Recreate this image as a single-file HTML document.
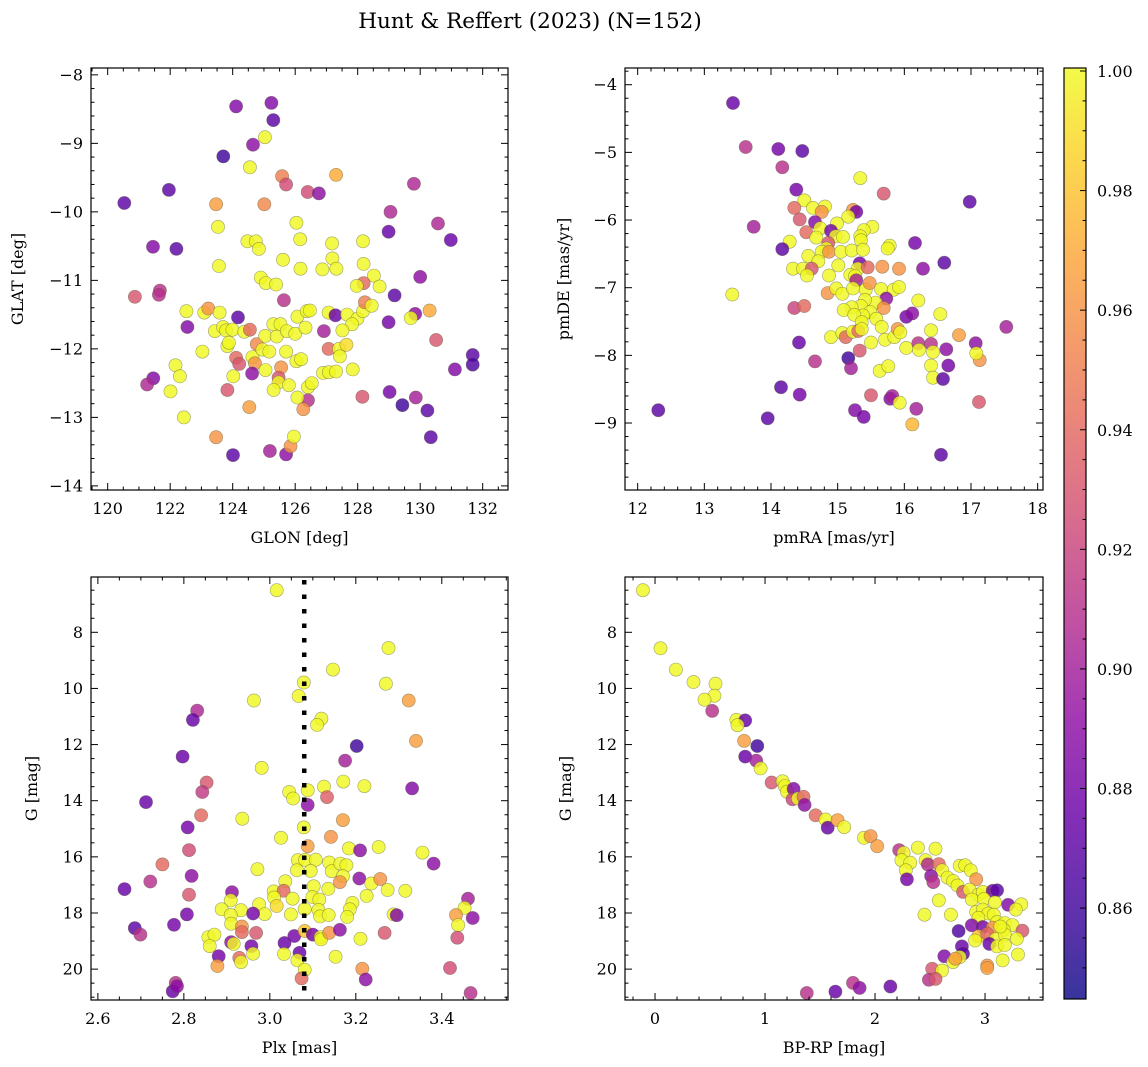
<!DOCTYPE html>
<html><head><meta charset="utf-8"><title>Hunt &amp; Reffert (2023)</title>
<style>
html,body{margin:0;padding:0;background:#fff;}
svg{display:block;font-family:"DejaVu Serif","Liberation Serif",serif;}
</style></head>
<body>
<svg id="fig" width="1148" height="1067" viewBox="0 0 1148 1067" xmlns="http://www.w3.org/2000/svg">
<text x="530" y="28" font-size="21.5" text-anchor="middle">Hunt &amp; Reffert (2023) (N=152)</text>
</svg>
<script>
// ---- Panel 1: GLON vs GLAT ----
const glon=[124.11,125.24,125.30,125.03,124.65,123.70,124.55,125.58,125.71,127.31,126.40,126.76,129.80,121.96,120.53,123.47,125.01,129.05,130.57,128.99,130.98,123.53,126.04,126.16,124.47,124.74,124.84,127.18,128.17,121.45,122.20,125.61,127.19,127.32,126.87,126.17,128.19,123.56,130.00,128.52,128.70,128.19,127.97,124.90,125.06,125.39,120.87,121.67,121.64,125.64,129.18,130.30,129.84,129.70,122.52,123.09,123.22,123.58,124.17,122.55,123.43,123.69,123.79,123.99,124.37,124.55,123.83,123.88,123.03,124.11,124.21,124.63,124.71,124.77,124.95,125.17,125.04,125.41,125.30,125.53,125.73,126.00,126.07,126.33,126.37,126.47,125.71,126.04,126.19,126.92,127.07,127.29,127.66,127.99,127.82,128.17,128.23,128.45,127.51,127.07,127.40,127.64,127.43,128.99,130.51,131.68,131.68,131.11,121.46,121.26,122.17,122.31,122.01,124.02,123.83,124.62,125.05,125.55,125.47,125.47,125.31,125.80,126.41,126.53,126.41,126.07,126.26,126.89,127.08,127.31,127.84,128.15,129.02,129.43,129.86,130.23,130.34,122.44,124.53,123.47,124.01,125.19,125.71,125.85,125.96];
const glat=[-8.46,-8.41,-8.66,-8.91,-9.02,-9.19,-9.35,-9.48,-9.60,-9.46,-9.71,-9.73,-9.59,-9.68,-9.87,-9.89,-9.89,-10.00,-10.17,-10.29,-10.41,-10.22,-10.16,-10.40,-10.43,-10.43,-10.54,-10.46,-10.43,-10.51,-10.54,-10.70,-10.68,-10.83,-10.84,-10.83,-10.76,-10.79,-10.95,-10.93,-11.09,-11.04,-11.08,-10.96,-11.04,-11.06,-11.24,-11.15,-11.21,-11.29,-11.22,-11.44,-11.49,-11.55,-11.45,-11.47,-11.41,-11.47,-11.54,-11.68,-11.74,-11.68,-11.73,-11.72,-11.75,-11.72,-11.96,-11.91,-12.04,-12.13,-12.22,-12.12,-12.21,-11.93,-12.01,-12.04,-11.81,-11.82,-11.64,-11.64,-11.74,-11.78,-11.53,-11.69,-11.45,-11.44,-12.04,-12.18,-12.15,-11.74,-11.47,-11.51,-11.50,-11.56,-11.64,-11.45,-11.32,-11.37,-11.73,-12.00,-12.00,-11.94,-12.11,-11.61,-11.87,-12.09,-12.23,-12.30,-12.43,-12.52,-12.24,-12.40,-12.62,-12.40,-12.60,-12.36,-12.31,-12.27,-12.42,-12.49,-12.60,-12.53,-12.56,-12.50,-12.75,-12.71,-12.88,-12.35,-12.34,-12.33,-12.30,-12.70,-12.63,-12.82,-12.71,-12.90,-13.29,-13.00,-12.85,-13.29,-13.55,-13.49,-13.54,-13.42,-13.28];
const prob1=[.885,.885,.87,1,.89,.86,1,.95,.925,.97,.925,.89,.905,.87,.87,.965,.955,.905,.905,.875,.875,1,1,1,1,1,1,1,1,.885,.87,1,1,1,1,1,1,1,.89,1,1,.94,1,1,1,1,.93,.91,.91,.91,.87,.97,.89,1,1,1,.96,1,.87,.885,1,1,1,1,1,.94,1,1,1,.94,.93,1,.96,.955,1,1,1,1,1,1,1,1,1,1,1,1,1,1,1,.9,1,.875,1,1,1,1,.95,1,1,.94,1,.99,1,.88,.93,.87,.865,.885,.885,.905,1,1,1,1,.93,.89,1,.96,.93,1,1,1,1,1,.91,1,.96,1,1,1,1,.93,.88,.86,.9,.87,.87,1,.965,.96,.87,.9,.89,.96,1];

// ---- Panel 2: pmRA vs pmDE ----
const pmra=[13.43,13.62,14.11,14.47,14.17,14.38,15.34,15.69,16.98,13.74,14.50,14.35,14.63,14.81,14.76,14.43,14.66,15.23,15.28,15.16,14.99,14.53,14.74,14.68,14.90,14.97,15.08,15.52,15.39,15.34,15.35,14.28,14.17,14.86,14.83,14.76,14.87,15.05,15.21,15.38,15.78,15.75,16.16,16.60,14.56,14.71,14.33,14.48,14.61,14.54,15.01,14.87,15.33,15.30,15.45,15.67,15.92,16.28,15.19,15.26,15.28,13.42,14.85,14.98,15.07,15.23,15.42,15.48,15.65,15.84,15.92,15.73,15.57,15.41,15.35,15.21,15.09,16.21,14.35,14.50,15.69,15.49,15.38,15.25,15.58,15.36,16.03,16.12,16.54,15.66,17.53,16.82,14.42,14.90,15.07,15.12,15.23,15.31,15.36,15.50,15.71,15.85,15.90,15.94,16.40,16.03,16.21,16.22,16.40,16.43,16.63,17.07,17.13,17.08,15.33,15.16,15.20,14.66,15.63,15.76,16.40,16.66,16.43,16.58,14.15,14.43,15.50,15.79,15.82,15.93,16.18,17.12,15.26,15.39,16.12,12.31,13.95,16.55];
const pmde=[-4.27,-4.92,-4.95,-4.98,-5.22,-5.55,-5.38,-5.61,-5.73,-6.10,-5.71,-5.82,-5.82,-5.80,-5.88,-5.99,-6.03,-5.85,-5.88,-5.95,-6.05,-6.18,-6.12,-6.26,-6.16,-6.24,-6.25,-6.10,-6.15,-6.24,-6.30,-6.32,-6.43,-6.34,-6.42,-6.47,-6.47,-6.47,-6.45,-6.44,-6.38,-6.42,-6.34,-6.63,-6.53,-6.61,-6.72,-6.72,-6.72,-6.82,-6.67,-6.82,-6.64,-6.72,-6.70,-6.69,-6.72,-6.72,-6.81,-6.83,-6.89,-7.10,-7.08,-7.01,-7.09,-7.01,-7.03,-6.93,-7.02,-7.03,-6.99,-7.16,-7.22,-7.18,-7.27,-7.29,-7.33,-7.19,-7.30,-7.27,-7.30,-7.36,-7.41,-7.40,-7.46,-7.51,-7.43,-7.38,-7.39,-7.58,-7.58,-7.70,-7.81,-7.73,-7.67,-7.73,-7.65,-7.64,-7.61,-7.81,-7.77,-7.73,-7.61,-7.66,-7.63,-7.89,-7.82,-7.92,-7.83,-7.95,-7.91,-7.82,-8.07,-7.97,-7.93,-8.04,-8.19,-8.09,-8.23,-8.16,-8.15,-8.15,-8.33,-8.35,-8.47,-8.58,-8.59,-8.64,-8.60,-8.70,-8.79,-8.69,-8.81,-8.91,-9.02,-8.81,-8.93,-9.47];
const prob2=[.875,.91,.88,.87,.91,.88,1,.93,.87,.9,1,.94,1,1,.96,.93,.885,.96,.88,1,1,.94,1,1,.88,1,1,1,1,1,1,1,.87,.93,1,1,.96,1,1,1,1,1,.88,.87,1,1,1,1,.93,1,1,1,.88,1,.94,.96,.96,.89,1,1,.9,1,.96,1,1,1,1,.96,1,1,1,.89,1,1,1,1,1,1,.92,.94,.96,1,1,1,1,1,.88,.89,1,1,.9,.965,.875,1,1,.94,1,.94,1,1,1,1,.96,1,1,1,.91,1,.91,1,.89,.89,.96,1,.93,.86,.9,.91,1,1,1,.88,1,.87,.87,.88,.93,.885,.9,1,.9,.93,.885,.88,.975,.87,.87,.87];

// ---- Panel 3: Plx vs G ----
const plx=[3.016,3.276,3.147,3.270,3.079,3.067,2.963,3.323,2.831,2.821,3.120,3.110,3.340,3.202,2.797,3.175,2.981,2.853,2.843,3.045,3.054,3.088,3.126,3.133,3.171,3.220,3.331,2.712,3.088,2.840,2.936,3.170,2.809,3.026,3.142,3.079,3.088,2.812,3.184,3.210,3.253,3.355,3.381,2.750,2.971,3.065,3.082,3.107,3.063,3.095,3.138,3.144,3.164,3.178,3.170,3.163,2.722,2.818,2.662,3.036,3.102,3.136,3.208,3.236,3.257,3.274,3.315,2.812,2.912,3.009,3.032,3.010,3.053,3.099,3.115,3.225,3.192,2.909,2.888,2.933,2.975,3.016,2.988,2.961,2.909,3.049,3.081,3.113,3.117,3.137,3.186,3.180,3.288,3.295,3.461,3.453,3.433,3.472,3.438,2.807,2.777,2.686,2.699,2.910,2.935,2.935,2.968,2.857,2.871,2.860,2.910,2.916,2.957,2.961,2.881,2.878,2.929,2.933,3.034,3.057,3.081,3.100,3.118,3.119,3.138,3.163,3.033,3.069,3.064,3.081,3.074,3.153,3.211,3.267,3.215,3.223,3.419,3.436,3.467,2.781,2.774,2.784];
const gmag3=[6.50,8.56,9.33,9.83,9.79,10.27,10.43,10.43,10.79,11.12,11.08,11.30,11.87,12.05,12.43,12.57,12.83,13.35,13.69,13.69,13.92,13.63,13.50,13.87,13.32,13.48,13.56,14.05,14.15,14.52,14.64,14.69,14.95,15.32,15.29,14.95,15.62,15.76,15.70,15.77,15.65,15.85,16.24,16.27,16.44,16.12,16.11,16.10,16.48,16.50,16.20,16.51,16.24,16.30,16.69,16.90,16.88,16.68,17.15,16.87,17.05,17.14,16.77,16.95,16.79,17.18,17.21,17.35,17.26,17.23,17.21,17.45,17.49,17.43,17.52,17.39,17.64,17.55,17.87,17.90,17.69,17.75,18.04,18.02,18.07,18.05,17.86,17.89,18.12,18.07,17.87,18.14,18.05,18.08,17.49,17.82,18.07,18.18,18.43,18.05,18.42,18.54,18.77,18.38,18.48,18.68,18.71,18.86,18.77,19.18,19.04,19.10,19.18,19.45,19.54,19.89,19.60,19.75,19.07,18.82,18.64,18.77,18.86,18.94,18.71,18.60,19.46,19.42,19.69,20.02,20.33,19.56,18.92,18.71,19.99,20.37,19.96,18.88,20.85,20.49,20.79,20.61];
const prob3=[1,1,1,1,1,1,1,.965,.905,.875,1,1,.965,.86,.875,.9,1,.93,.915,1,1,1,1,.935,1,1,.885,.875,.89,.94,1,.965,.88,1,.96,1,.965,.925,1,.89,1,1,.89,.94,1,1,1,1,1,1,1,1,1,1,1,.96,.91,.89,.875,1,1,1,.89,1,.96,1,1,.93,.89,1,.94,1,1,1,1,1,1,1,1,1,1,.99,1,.88,1,1,1,1,1,1,1,1,1,.885,.9,1,.965,.89,1,.88,.88,.87,.91,1,.96,.94,.93,1,1,1,.89,1,.88,1,.88,.965,.94,1,.875,.88,.98,.88,1,1,.96,.89,1,.875,1,1,.94,1,1,.93,.96,.89,.925,.925,.91,.91,.875,.89];

// ---- Panel 4: BP-RP vs G ----
const bprp=[-0.11,0.05,0.19,0.35,0.55,0.54,0.45,0.52,0.74,0.82,0.75,0.81,0.93,0.82,0.92,0.96,1.06,1.16,1.18,1.20,1.26,1.25,1.30,1.35,1.36,1.46,1.55,1.57,1.66,1.72,1.90,1.96,2.02,2.22,2.26,2.24,2.32,2.28,2.29,2.39,2.55,2.46,2.48,2.58,2.61,2.51,2.53,2.66,2.71,2.75,2.77,2.82,2.87,2.92,2.80,2.86,2.94,2.98,3.07,3.11,2.88,2.99,3.09,3.21,3.33,3.28,2.58,2.45,2.69,2.92,2.98,3.03,3.08,2.94,3.11,3.18,3.25,2.88,2.98,3.07,3.17,3.34,2.76,2.94,3.02,3.10,3.18,3.29,3.04,3.11,3.18,3.30,3.16,2.79,2.80,2.63,2.71,2.77,2.73,3.02,3.02,2.52,2.61,2.49,2.55,1.38,1.64,1.80,1.86,2.14,2.91,3.14];
const gmag4=[6.50,8.57,9.33,9.77,9.83,10.26,10.40,10.80,11.12,11.14,11.31,11.87,12.05,12.43,12.57,12.85,13.35,13.31,13.48,13.68,13.58,13.95,13.92,13.86,14.15,14.52,14.67,14.96,14.69,14.94,15.32,15.26,15.62,15.76,15.86,16.12,16.21,16.48,16.80,15.67,15.71,16.12,16.27,16.26,16.48,16.68,16.90,16.74,16.86,17.02,16.32,16.30,16.48,16.80,17.25,17.17,17.35,17.25,17.21,17.19,17.52,17.50,17.62,17.71,17.69,17.88,17.55,18.06,18.06,17.96,17.88,18.02,18.06,18.17,18.32,18.36,18.43,18.44,18.50,18.52,18.60,18.63,18.64,18.83,18.74,18.92,18.77,18.92,19.10,19.19,19.14,19.48,19.69,19.19,19.45,19.54,19.75,19.57,19.63,19.87,19.96,19.99,20.05,20.38,20.35,20.85,20.80,20.49,20.67,20.62,18.98,18.48];
const prob4=[1,1,1,1,1,1,1,.91,1,.875,1,.965,.86,.875,.9,1,.93,1,1,1,.885,.92,1,.94,.89,.94,1,.875,.965,1,1,.96,.965,.91,1,1,1,1,.88,1,1,1,.905,.94,1,.89,.91,1,1,1,1,1,1,.96,.93,1,1,1,.88,.87,1,1,1,.885,1,1,1,1,1,1,1,1,1,1,1,1,1,.885,.88,.96,1,.93,.865,.98,.94,1,1,1,.875,1,1,1,1,.875,.87,.885,1,1,.965,.96,.965,.93,1,.91,.93,.91,.875,.91,.89,.875,1,1];

const cbTicks=[0.86,0.88,0.90,0.92,0.94,0.96,0.98,1.00];
const VMIN=0.8448, VMAX=1.0005;

const NS="http://www.w3.org/2000/svg";
const svg=document.getElementById('fig');
function mk(tag,attrs,parent){const e=document.createElementNS(NS,tag);for(const k in attrs)e.setAttribute(k,attrs[k]);(parent||svg).appendChild(e);return e;}

const plasma=[[13,8,135],[65,4,157],[106,0,168],[143,13,164],[177,42,144],[204,71,120],[225,100,98],[242,132,75],[252,166,54],[252,206,37],[240,249,33]];
function cmap(v){let t=(v-VMIN)/(VMAX-VMIN);t=Math.max(0,Math.min(1,t));const f=t*10;const i=Math.min(9,Math.floor(f));const u=f-i;const a=plasma[i],b=plasma[i+1];return 'rgb('+[0,1,2].map(k=>Math.round(a[k]+(b[k]-a[k])*u)).join(',')+')';}
function fmt(v,d){const s=Math.abs(v).toFixed(d);return (v<-1e-9?'\u2212':'')+s;}

function panel(o){
  const g=mk('g',{});
  
  
  const sx=v=>o.x0+(v-o.xd[0])/(o.xd[1]-o.xd[0])*(o.x1-o.x0);
  const sy=v=>o.y0+(v-o.yd[0])/(o.yd[1]-o.yd[0])*(o.y1-o.y0);
  const clipId='clip-'+o.name;
  const cp=mk('clipPath',{id:clipId},g);
  mk('rect',{x:o.x0,y:o.y0,width:o.x1-o.x0,height:o.y1-o.y0},cp);
  const marks=mk('g',{'clip-path':'url(#'+clipId+')'},g);
  
  
  for(let i=0;i<o.xs.length;i++){
    const c=mk('circle',{cx:sx(o.xs[i]).toFixed(1),cy:sy(o.ys[i]).toFixed(1),r:6.6,fill:cmap(o.cs[i]),'fill-opacity':0.82,stroke:'#5a5a3a','stroke-opacity':0.55,'stroke-width':0.6},marks);
    
    
  }
  if(o.vline!==undefined){
    const l=mk('line',{x1:sx(o.vline),x2:sx(o.vline),y1:o.y0+3,y2:o.y1,stroke:'#000','stroke-width':4.5,'stroke-dasharray':'4.5,10'},g);
    
    
  }
  const ax=mk('g',{stroke:'#000','stroke-width':1},g);
  const lo=Math.min(o.xd[0],o.xd[1]),hi=Math.max(o.xd[0],o.xd[1]);
  for(let v=Math.ceil(lo/o.xmin-1e-6)*o.xmin;v<=hi+1e-9;v+=o.xmin){
    const isMaj=Math.abs(v/o.xmaj-Math.round(v/o.xmaj))<1e-4;const L=isMaj?7:3.5;const x=sx(v);
    mk('line',{x1:x,x2:x,y1:o.y1,y2:o.y1-L},ax);mk('line',{x1:x,x2:x,y1:o.y0,y2:o.y0+L},ax);
    if(isMaj){const t=mk('text',{x:x,y:o.y1+24,'font-size':16,'text-anchor':'middle',stroke:'none',fill:'#000'},g);t.textContent=fmt(v,o.xdec);
      
      }
  }
  const ylo=Math.min(o.yd[0],o.yd[1]),yhi=Math.max(o.yd[0],o.yd[1]);
  for(let v=Math.ceil(ylo/o.ymin-1e-6)*o.ymin;v<=yhi+1e-9;v+=o.ymin){
    const isMaj=Math.abs(v/o.ymaj-Math.round(v/o.ymaj))<1e-4;const L=isMaj?7:3.5;const y=sy(v);
    mk('line',{x1:o.x0,x2:o.x0+L,y1:y,y2:y},ax);mk('line',{x1:o.x1,x2:o.x1-L,y1:y,y2:y},ax);
    if(isMaj){const t=mk('text',{x:o.x0-8,y:y+5.5,'font-size':16,'text-anchor':'end',stroke:'none',fill:'#000'},g);t.textContent=fmt(v,0);
      
      }
  }
  const fr=mk('rect',{x:o.x0,y:o.y0,width:o.x1-o.x0,height:o.y1-o.y0,fill:'none',stroke:'#000','stroke-width':1.2},g);
  
  
  const xl=mk('text',{x:(o.x0+o.x1)/2,y:o.y1+53,'font-size':16,'text-anchor':'middle'},g);xl.textContent=o.xlabel;
  
  
  const yx=o.x0-o.ylabOff,yy=(o.y0+o.y1)/2;
  const yl=mk('text',{x:yx,y:yy,'font-size':16,'text-anchor':'middle',transform:'rotate(-90 '+yx+' '+yy+')'},g);yl.textContent=o.ylabel;
  
  
}

panel({name:'glon-glat-panel',x0:91,x1:508,y0:68,y1:490,xd:[119.466,132.81],yd:[-7.90,-14.06],xmaj:2,xmin:0.5,ymaj:1,ymin:0.2,xdec:0,xs:glon,ys:glat,cs:prob1,xlabel:'GLON [deg]',ylabel:'GLAT [deg]',ylabOff:68});
panel({name:'proper-motion-panel',x0:625,x1:1043,y0:68,y1:490,xd:[11.81,18.08],yd:[-3.753,-9.99],xmaj:1,xmin:0.2,ymaj:1,ymin:0.2,xdec:0,xs:pmra,ys:pmde,cs:prob2,xlabel:'pmRA [mas/yr]',ylabel:'pmDE [mas/yr]',ylabOff:56});
panel({name:'parallax-magnitude-panel',x0:91,x1:508,y0:577,y1:1000,xd:[2.584,3.554],yd:[6.03,21.1],xmaj:0.2,xmin:0.05,ymaj:2,ymin:0.5,xdec:1,xs:plx,ys:gmag3,cs:prob3,xlabel:'Plx [mas]',ylabel:'G [mag]',ylabOff:54,vline:3.08});
panel({name:'color-magnitude-panel',x0:625,x1:1043,y0:577,y1:1000,xd:[-0.273,3.527],yd:[6.03,21.1],xmaj:1,xmin:0.2,ymaj:2,ymin:0.5,xdec:0,xs:bprp,ys:gmag4,cs:prob4,xlabel:'BP-RP [mag]',ylabel:'G [mag]',ylabOff:54});

// colorbar
(function(){
  const x0=1064,x1=1086,y0=68,y1=999;
  const g=mk('g',{});
  
  
  const defs=mk('defs',{},g);
  const lg=mk('linearGradient',{id:'cbgrad',x1:0,y1:1,x2:0,y2:0},defs);
  for(let i=0;i<=20;i++){const v=VMIN+(VMAX-VMIN)*i/20;mk('stop',{offset:(i/20),'stop-color':cmap(v)},lg);}
  mk('rect',{x:x0,y:y0,width:x1-x0,height:y1-y0,fill:'url(#cbgrad)','fill-opacity':0.82},g);
  const sy=v=>y1-(v-VMIN)/(VMAX-VMIN)*(y1-y0);
  for(let v=0.85;v<=1.0001;v+=0.005){const y=sy(v);const maj=cbTicks.some(t=>Math.abs(t-v)<1e-4);
    mk('line',{x1:x1,x2:x1-(maj?6:3.5),y1:y,y2:y,stroke:'#000','stroke-width':1},g);}
  for(const t of cbTicks){const y=sy(t);const tx=mk('text',{x:x1+11,y:y+6,'font-size':16},g);tx.textContent=t.toFixed(2);
    
    }
  mk('rect',{x:x0,y:y0,width:x1-x0,height:y1-y0,fill:'none',stroke:'#000','stroke-width':1.2},g);
})();
</script>
</body></html>
